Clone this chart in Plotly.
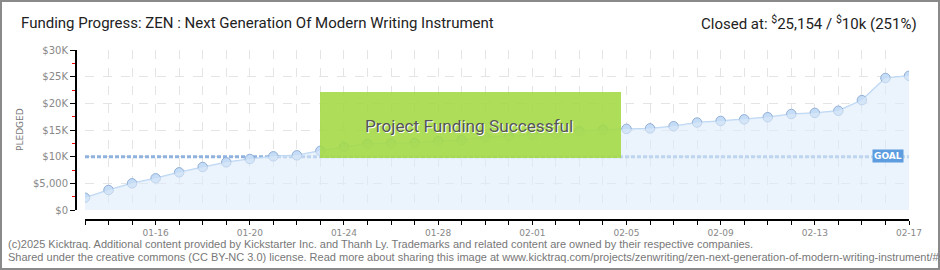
import plotly.graph_objects as go
import pandas as pd

# ---- data ----
dates = pd.date_range("2025-01-13", "2025-02-17", freq="D").strftime("%Y-%m-%d").tolist()
pledged = [2300, 3750, 5000, 5940, 7060, 8060, 8940, 9560, 10060, 10250,
           11100, 11800, 12400, 12500, 12550, 12900, 13100, 13600, 13900, 14100,
           14300, 14750, 15050, 15200, 15300, 15700, 16400, 16700, 17000, 17400,
           18000, 18200, 18600, 20600, 24750, 25154]
goal = 10000
total = 25154
ytick_vals = [0, 5000, 10000, 15000, 20000, 25000, 30000]
ytick_text = ["$0", "$5,000", "$10K", "$15K", "$20K", "$25K", "$30K"]
title_text = "Funding Progress: ZEN : Next Generation Of Modern Writing Instrument"

# ---- layout geometry (pixels) ----
W, H = 940, 270
ML, MR, MT, MB = 76, 31, 50, 50
PW, PH = W - ML - MR, H - MT - MB

def px(x):
    return (x - ML) / PW

def py(y):
    return (H - MB - y) / PH

PIX = "DejaVu Sans"
HEAD = "Roboto"
FOOT = "Liberation Sans"
GRID = "#e4e4e4"

fig = go.Figure()
# area fill (on the overlay x axis that carries the vertical gridlines)
fig.add_trace(go.Scatter(x=dates, y=pledged, mode="lines", fill="tozeroy",
                         fillcolor="rgba(222,235,250,0.6)", line=dict(width=0),
                         xaxis="x2", yaxis="y",
                         hoverinfo="skip", showlegend=False))
# goal line
fig.add_trace(go.Scatter(x=[dates[0], dates[-1]], y=[goal, goal], mode="lines",
                         line=dict(color="#8fb3de", width=3, dash="4px,2px"),
                         hoverinfo="skip", showlegend=False))
# line + markers
fig.add_trace(go.Scatter(x=dates, y=pledged, mode="lines+markers",
                         line=dict(color="#b9d5f3", width=1.5),
                         marker=dict(size=9.5, color="#c5dcf6",
                                     line=dict(color="#91afd6", width=1)),
                         hoverinfo="skip", showlegend=False))

xdomain = [px(85), 1]
fig.update_layout(
    width=W, height=H,
    margin=dict(l=ML, r=MR, t=MT, b=MB),
    paper_bgcolor="white", plot_bgcolor="white",
    xaxis=dict(
        type="date", domain=xdomain, anchor="free", position=0,
        range=[dates[0], dates[-1]],
        tick0="2025-01-16", dtick=4 * 86400000, tickformat="%m-%d",
        ticks="outside", ticklen=4, tickcolor="black", tickwidth=1,
        showline=True, linecolor="black", linewidth=2,
        showgrid=False,
        minor=dict(dtick=86400000, ticks="outside", ticklen=4, tickcolor="black",
                   showgrid=False),
        tickfont=dict(family=PIX, size=9, color="#888"),
        zeroline=False, fixedrange=True,
    ),
    xaxis2=dict(
        type="date", domain=xdomain, anchor="y", overlaying="x", matches="x",
        range=[dates[0], dates[-1]],
        tick0="2025-01-16", dtick=86400000,
        showticklabels=False, ticks="", showline=False,
        showgrid=True, gridcolor=GRID, griddash="dash", gridwidth=1,
        zeroline=False, fixedrange=True,
    ),
    yaxis=dict(
        domain=[10 / PH, 1], anchor="free", position=0,
        range=[0, 30000],
        tickvals=ytick_vals, ticktext=ytick_text,
        ticks="outside", ticklen=5, tickcolor="black", tickwidth=1,
        showline=True, linecolor="black", linewidth=2,
        showgrid=True, gridcolor=GRID, griddash="dash",
        minor=dict(dtick=2500, tick0=0, ticks="outside", ticklen=3,
                   tickcolor="red", showgrid=False),
        tickfont=dict(family=PIX, size=10, color="#888"),
        zeroline=False, fixedrange=True,
    ),
)

shapes = [
    # success box
    dict(type="rect", xref="paper", yref="paper",
         x0=px(320), x1=px(621), y0=py(158), y1=py(92),
         fillcolor="rgba(163,217,66,0.88)", line=dict(width=0), layer="above"),
    # outer border
    dict(type="rect", xref="paper", yref="paper",
         x0=px(1), x1=px(939), y0=py(269), y1=py(1),
         line=dict(color="#8a8a8a", width=2), fillcolor="rgba(0,0,0,0)"),
]
fig.update_layout(shapes=shapes)

pct = total * 100 // goal
ann = [
    dict(text=title_text, xref="paper", yref="paper", x=px(19), y=py(23),
         xanchor="left", yanchor="middle", showarrow=False,
         font=dict(family=HEAD, size=15, color="#222")),
    dict(text=f"Closed at: <sup>$</sup>{total:,} / <sup>$</sup>{goal // 1000}k ({pct}%)",
         xref="paper", yref="paper", x=px(919), y=py(23),
         xanchor="right", yanchor="middle", showarrow=False,
         font=dict(family=HEAD, size=15, color="#222")),
    dict(text="Project Funding Successful", xref="paper", yref="paper",
         x=px(469), y=py(126), xanchor="center", yanchor="middle", showarrow=False,
         font=dict(family=HEAD, size=17.2, color="#555", shadow="1px 1px 0px white")),
    dict(text="<b>GOAL</b>", xref="paper", yref="paper", x=px(888), y=py(156),
         xanchor="center", yanchor="middle", showarrow=False,
         bgcolor="#5d9ddf", borderpad=1,
         font=dict(family=PIX, size=9, color="white")),
    dict(text="PLEDGED", xref="paper", yref="paper", x=px(20), y=py(130),
         xanchor="center", yanchor="middle", showarrow=False, textangle=-90,
         font=dict(family=PIX, size=9, color="#777")),
    dict(text="(c)2025 Kicktraq. Additional content provided by Kickstarter Inc. and Thanh Ly. Trademarks and related content are owned by their respective companies.",
         xref="paper", yref="paper", x=px(6), y=py(244),
         xanchor="left", yanchor="middle", showarrow=False,
         font=dict(family=FOOT, size=11, color="#777")),
    dict(text="Shared under the creative commons (CC BY-NC 3.0) license. Read more about sharing this image at www.kicktraq.com/projects/zenwriting/zen-next-generation-of-modern-writing-instrument/#sharing",
         xref="paper", yref="paper", x=px(6), y=py(257),
         xanchor="left", yanchor="middle", showarrow=False,
         font=dict(family=FOOT, size=11, color="#777")),
]
fig.update_layout(annotations=ann)

fig.write_html("out.html", config={"displayModeBar": False, "staticPlot": True})
